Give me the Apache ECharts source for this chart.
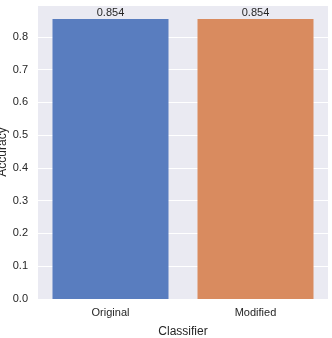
<!DOCTYPE html>
<html><head><meta charset="utf-8">
<script src="https://cdn.jsdelivr.net/npm/echarts@6/dist/echarts.min.js"></script>
<style>html,body{margin:0;padding:0;background:#fff}#c{width:332px;height:338px}</style>
</head><body><div id="c"></div>
<script>
const categories = ['Original', 'Modified'];
const accuracy = [0.854, 0.854];
const barColors = ['#597dbf', '#d98b5f'];
const yTicks = [0.0, 0.1, 0.2, 0.3, 0.4, 0.5, 0.6, 0.7, 0.8];

const font = 'Liberation Sans, Arial, sans-serif';
const chart = echarts.init(document.getElementById('c'), null, {renderer: 'canvas'});
chart.setOption({
  animation: false,
  backgroundColor: '#ffffff',
  grid: {left: 38, right: 4, top: 5, bottom: 39, containLabel: false, outerBoundsMode: 'none',
    show: true, backgroundColor: '#eaeaf2', borderWidth: 0},
  xAxis: {
    type: 'category', data: categories,
    name: 'Classifier', nameLocation: 'middle', nameGap: 27, nameMoveOverlap: false,
    nameTextStyle: {fontFamily: font, fontSize: 12, color: '#262626'},
    axisLine: {show: false}, axisTick: {show: false},
    axisLabel: {fontFamily: font, fontSize: 11, color: '#262626', margin: 8},
    splitLine: {show: false}
  },
  yAxis: {
    type: 'value', min: 0, max: 0.897, interval: 0.1,
    name: 'Accuracy', nameLocation: 'middle', nameGap: 29, nameRotate: 90, nameMoveOverlap: false,
    nameTextStyle: {fontFamily: font, fontSize: 12, color: '#262626'},
    axisLine: {show: false}, axisTick: {show: false},
    axisLabel: {fontFamily: font, fontSize: 11, color: '#262626', margin: 10,
      formatter: v => yTicks.some(t => Math.abs(t - v) < 1e-9) ? v.toFixed(1) : ''},
    splitLine: {show: true, lineStyle: {color: '#ffffff', width: 1}}
  },
  series: [{
    type: 'bar', barWidth: '80%',
    data: accuracy.map((v, i) => ({value: v, itemStyle: {color: barColors[i]}})),
    label: {show: true, position: 'top', distance: 1, fontFamily: font, fontSize: 11, color: '#262626',
      formatter: p => p.value.toFixed(3)}
  }]
});
</script></body></html>
